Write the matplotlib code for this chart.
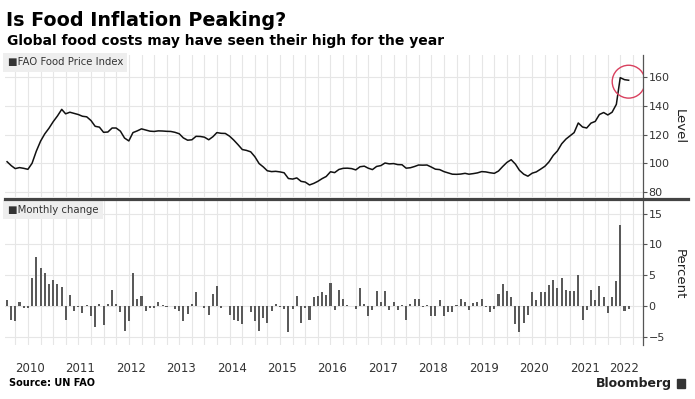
import pandas as pd
import matplotlib
matplotlib.use("Agg")
import matplotlib.pyplot as plt
from matplotlib.lines import Line2D
from matplotlib.patches import Rectangle

# FAO Food Price Index (monthly), Jan 2010 .. May 2022
level = [
    101.1, 98.3, 96.3, 97.0, 96.5, 95.8, 100.0, 108.5, 115.5, 120.5, 124.5, 129.0,
    133.0, 137.6, 134.5, 135.6, 134.8, 134.0, 132.8, 132.4, 129.8, 125.8, 125.2, 121.6,
    121.8, 124.6, 124.6, 122.4, 117.6, 115.6, 121.4, 122.6, 124.0, 123.2, 122.4, 122.2,
    122.6, 122.5, 122.3, 122.2, 121.6, 120.6, 117.7, 116.1, 116.4, 118.8, 118.7, 118.2,
    116.4, 118.6, 121.4, 120.9, 120.8, 118.9, 116.2, 113.0, 109.6, 109.0, 108.0, 104.6,
    99.8, 97.4, 94.8, 94.2, 94.4, 94.0, 93.4, 89.4, 89.0, 89.8, 87.4, 86.9,
    84.9, 86.0, 87.4, 89.3, 90.8, 94.1, 93.5, 95.7, 96.5, 96.6, 96.3, 95.4,
    97.6, 98.0, 96.6, 95.6, 97.8, 98.4, 100.2, 99.6, 99.8, 99.1, 99.0, 96.6,
    96.9, 97.8, 98.8, 98.7, 98.8, 97.4, 95.9, 95.6, 94.2, 93.3, 92.4, 92.3,
    92.5, 93.0, 92.4, 92.8, 93.3, 94.2, 94.0, 93.4, 93.0, 94.6, 97.8, 100.6,
    102.5, 99.4, 95.1, 92.4, 91.0, 93.1, 94.0, 95.9, 97.9, 101.0, 105.5, 108.6,
    113.6, 116.9, 119.0, 121.4, 128.1, 125.3, 124.6, 128.0, 129.2, 134.0, 135.4, 133.7,
    135.6, 141.1, 159.7, 158.3, 157.9,
]

# monthly change, percent
change = [
    1.0, -2.3, -2.5, 0.7, -0.4, -0.4, 4.6, 7.9, 6.2, 5.4, 3.5, 4.3,
    3.5, 3.1, -2.3, 1.8, -0.8, -0.1, -1.1, 0.1, -1.7, -3.4, 0.4, -3.1,
    0.4, 2.6, 0.4, -0.9, -4.1, -2.5, 5.4, 1.1, 1.6, -0.8, -0.4, -0.4,
    0.6, 0.1, -0.1, 0.0, -0.5, -0.8, -2.4, -1.3, 0.3, 2.2, 0.0, -0.4,
    -1.5, 2.0, 3.2, -0.4, 0.0, -1.5, -2.2, -2.5, -2.9, 0.0, -0.9, -2.5,
    -4.0, -2.0, -2.7, -0.8, 0.4, -0.2, -0.5, -4.3, -0.5, 1.6, -2.7, -0.4,
    -2.3, 1.5, 1.7, 2.2, 1.8, 3.8, -0.6, 2.6, 1.1, 0.2, 0.0, -0.5,
    2.9, 0.4, -1.6, -0.6, 2.5, 0.7, 2.5, -0.6, 0.7, -0.6, 0.2, -2.3,
    0.4, 1.2, 1.2, -0.1, 0.1, -1.6, -1.7, 0.9, -1.7, -0.9, -1.0, 0.1,
    1.1, 0.7, -0.7, 0.5, 0.7, 1.2, -0.2, -0.9, -0.5, 2.0, 3.5, 2.4,
    1.5, -2.9, -4.2, -2.7, -1.5, 2.3, 0.9, 2.2, 2.2, 3.4, 4.2, 2.9,
    4.5, 2.6, 2.4, 2.4, 5.0, -2.2, -0.6, 2.6, 0.9, 3.2, 1.5, -1.1,
    1.4, 4.1, 13.2, -0.8, -0.5,
]

years = [str(y) for y in range(2010, 2023)]
level_ticks = [80, 100, 120, 140, 160]
pct_ticks = [-5, 0, 5, 10, 15]

dates = pd.date_range("2010-01-01", periods=len(level), freq="MS")
grid_dates = pd.date_range("2010-03-01", "2022-06-01", freq="3MS")
year_pos = [pd.Timestamp(y + "-06-16") for y in years[:-1]] + [pd.Timestamp("2022-03-28")]
xlim = (pd.Timestamp("2009-12-17"), pd.Timestamp("2022-08-13"))

W, H = 695, 399
GRID = "#e6e6e6"
TXT = "#333333"


def box(x0, y0, x1, y1):
    return [x0 / W, 1 - y1 / H, (x1 - x0) / W, (y1 - y0) / H]


def style(ax):
    for s in ["top", "left", "bottom"]:
        ax.spines[s].set_visible(False)
    ax.spines["right"].set_color("#555555")
    ax.spines["right"].set_linewidth(0.9)
    ax.yaxis.tick_right()
    ax.tick_params(axis="y", length=3, width=0.8, color="#555555", labelsize=8,
                   labelcolor=TXT, pad=1)
    ax.set_xticks(grid_dates, minor=True)
    ax.tick_params(axis="x", which="both", length=0)
    ax.grid(which="minor", axis="x", color=GRID, lw=0.8)
    ax.grid(which="major", axis="y", color=GRID, lw=0.8)
    ax.set_axisbelow(True)
    ax.set_xlim(*xlim)


fig = plt.figure(figsize=(6.95, 3.99), dpi=100)

ax1 = fig.add_axes(box(5, 55, 643, 197))
ax1.plot(dates, level, color="#111111", lw=1.1)
ax1.set_ylim(76.5, 175.5)
ax1.set_yticks(level_ticks)
ax1.set_xticks([])
style(ax1)
ax1.scatter([dates[-1]], [level[-1] - 1], s=560, facecolors="none",
            edgecolors="#d9405e", linewidths=1.0, zorder=5)
ax1.text(0.004, 0.985, "\u25a0FAO Food Price Index", transform=ax1.transAxes,
         ha="left", va="top", fontsize=7.3, color=TXT,
         bbox=dict(boxstyle="square,pad=0.45", fc="#eeeeee", ec="none"))

ax2 = fig.add_axes(box(5, 201, 643, 345))
ax2.bar(dates, change, width=15, color="#5a5a5a")
ax2.set_ylim(-6.33, 17.05)
ax2.set_yticks(pct_ticks)
ax2.set_xticks(year_pos)
ax2.set_xticklabels(years)
style(ax2)
ax2.tick_params(axis="x", which="major", pad=12, labelsize=8.5, labelcolor=TXT)
ax2.text(0.004, 0.975, "\u25a0Monthly change", transform=ax2.transAxes,
         ha="left", va="top", fontsize=7.3, color=TXT,
         bbox=dict(boxstyle="square,pad=0.45", fc="#eeeeee", ec="none"))

fig.add_artist(Line2D([5 / W, 688 / W], [1 - 198.5 / H] * 2, lw=2.3, color="#444444"))

fig.text(6 / W, 1 - 20 / H, "Is Food Inflation Peaking?", fontsize=13.8,
         fontweight="bold", va="center", ha="left", color="#000000")
fig.text(7 / W, 1 - 41 / H, "Global food costs may have seen their high for the year",
         fontsize=10, fontweight="bold", va="center", ha="left", color="#000000")
fig.text(679 / W, 1 - 127 / H, "Level", rotation=270, ha="center", va="center",
         fontsize=9.5, color="#222222")
fig.text(679 / W, 1 - 274 / H, "Percent", rotation=270, ha="center", va="center",
         fontsize=9.5, color="#222222")
fig.text(9 / W, 1 - 383 / H, "Source: UN FAO", fontsize=7, fontweight="bold",
         va="center", ha="left", color="#000000")
fig.text(672 / W, 1 - 383 / H, "Bloomberg", fontsize=9, fontweight="bold",
         va="center", ha="right", color="#222222")
fig.add_artist(Rectangle((677 / W, 1 - 388 / H), 8 / W, 9 / H,
                         transform=fig.transFigure, color="#333333"))

fig.savefig("out.png", dpi=100)
